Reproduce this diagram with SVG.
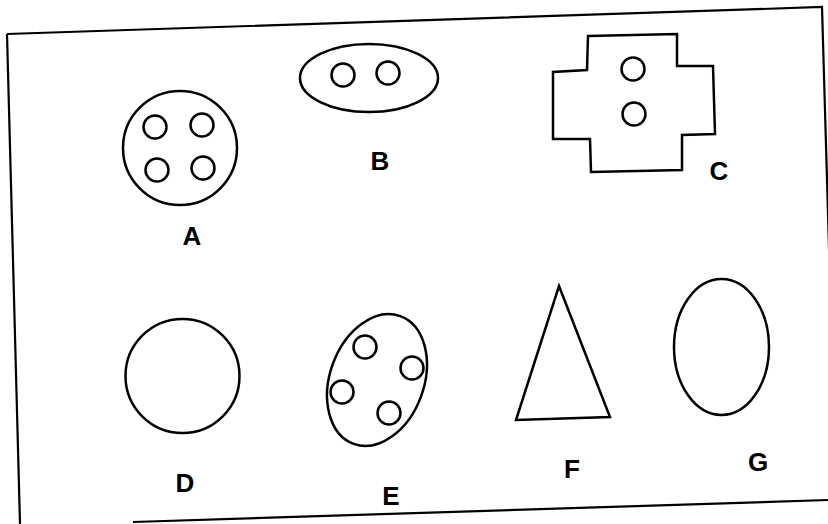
<svg xmlns="http://www.w3.org/2000/svg" width="828" height="524" viewBox="0 0 828 524">
<style>
.s{fill:none;stroke:#000;stroke-width:2.5;stroke-linejoin:miter}
.f{fill:none;stroke:#000;stroke-width:2.2}
.t{font-family:"Liberation Sans",Arial,sans-serif;font-weight:bold;font-size:26px;fill:#000;text-anchor:middle}
</style>
<rect width="828" height="524" fill="#fff"/>
<g id="frame">
<path class="f" d="M7,34 L822,7 L837,524"/>
<path class="f" d="M7,34 L20,524"/>
<path class="f" d="M133,522 L828,500"/>
</g>
<g id="A">
<circle class="s" cx="180" cy="148" r="57"/>
<circle class="s" cx="155" cy="127" r="11.5"/>
<circle class="s" cx="202" cy="125" r="11.5"/>
<circle class="s" cx="157" cy="170" r="11.5"/>
<circle class="s" cx="203" cy="168" r="11.5"/>
<text class="t" x="192" y="245">A</text>
</g>
<g id="B">
<ellipse class="s" cx="369" cy="78" rx="69" ry="34"/>
<circle class="s" cx="343" cy="75" r="11.5"/>
<circle class="s" cx="388" cy="73" r="11.5"/>
<text class="t" x="380" y="170">B</text>
</g>
<g id="C">
<path class="s" d="M588,36 L677,34 L677,66 L713,66 L715,134 L682,135 L682,170 L591,172 L590,139 L553,139 L553,72 L587,70 Z"/>
<circle class="s" cx="633" cy="69" r="11.5"/>
<circle class="s" cx="634" cy="114" r="11.5"/>
<text class="t" x="719" y="180">C</text>
</g>
<g id="D">
<circle class="s" cx="182.5" cy="376" r="57"/>
<text class="t" x="185" y="492">D</text>
</g>
<g id="E">
<ellipse class="s" cx="377" cy="380" rx="47" ry="68" transform="rotate(20 377 380)"/>
<circle class="s" cx="365" cy="347" r="11.5"/>
<circle class="s" cx="412" cy="368" r="11.5"/>
<circle class="s" cx="342" cy="392" r="11.5"/>
<circle class="s" cx="389" cy="413" r="11.5"/>
<text class="t" x="391" y="505">E</text>
</g>
<g id="F">
<path class="s" d="M559,286 L610,417 L516,420 Z"/>
<text class="t" x="572" y="478">F</text>
</g>
<g id="G">
<ellipse class="s" cx="721.5" cy="347" rx="47.5" ry="68"/>
<text class="t" x="758" y="471">G</text>
</g>
</svg>
